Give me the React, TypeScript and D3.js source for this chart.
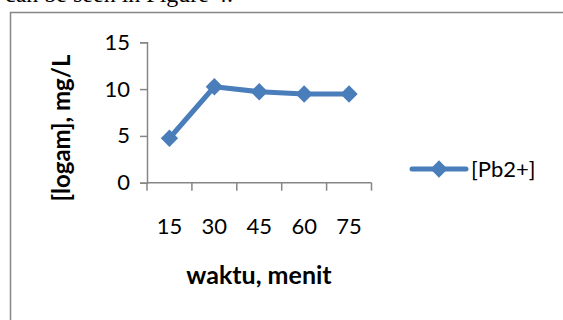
import React, { useEffect, useRef } from 'react';
import * as d3 from 'd3';

const W = 563;
const H = 320;

const categories = ['15', '30', '45', '60', '75'];
const pb2Values = [4.75, 10.25, 9.72, 9.48, 9.48];
const yTicks = [0, 5, 10, 15];
const seriesName = '[Pb2+]';

const BLUE = '#4a7ebb';
const AXIS = '#868686';
const FONT = 'Lato, sans-serif';

const App = () => {
  const svgRef = useRef<SVGSVGElement>(null);

  useEffect(() => {
    const svg = d3.select(svgRef.current);
    svg.selectAll('*').remove();

    // page text cut off at the top
    svg.append('text')
      .attr('x', 233)
      .attr('y', 1.5)
      .attr('text-anchor', 'end')
      .style('font', '24px "Liberation Serif", serif')
      .attr('fill', '#000')
      .text('can be seen in Figure 4.');

    // chart frame
    svg.append('path')
      .attr('d', `M10.5,${H} V12.5 H${W}`)
      .attr('fill', 'none')
      .attr('stroke', AXIS)
      .attr('stroke-width', 1.5);

    const x = d3.scaleBand().domain(categories).range([147, 371.5]);
    const y = d3.scaleLinear().domain([0, 15]).range([182.7, 42.3]);

    // y axis
    const yAxis = svg.append('g')
      .attr('transform', 'translate(147,0)')
      .call(d3.axisLeft(y).tickValues(yTicks).tickSize(7).tickPadding(10));
    yAxis.select('.domain').attr('stroke', AXIS).attr('stroke-width', 1.5);
    yAxis.selectAll('.tick line').attr('stroke', AXIS).attr('stroke-width', 1.5);
    yAxis.selectAll('.tick text')
      .style('font', `22px ${FONT}`)
      .attr('fill', '#000');

    // x axis
    const xAxis = svg.append('g')
      .attr('transform', `translate(0,${y(0)})`);
    xAxis.append('line')
      .attr('x1', x.range()[0]).attr('x2', x.range()[1])
      .attr('stroke', AXIS).attr('stroke-width', 1.5);
    const bounds = categories.map(c => x(c)!).concat([x.range()[1]]);
    xAxis.selectAll('line.tk')
      .data(bounds)
      .join('line')
      .attr('class', 'tk')
      .attr('x1', d => d).attr('x2', d => d)
      .attr('y1', 0).attr('y2', 8)
      .attr('stroke', AXIS).attr('stroke-width', 1.5);
    xAxis.selectAll('text')
      .data(categories)
      .join('text')
      .attr('x', d => x(d)! + x.bandwidth() / 2)
      .attr('y', 51)
      .attr('text-anchor', 'middle')
      .style('font', `22px ${FONT}`)
      .attr('fill', '#000')
      .text(d => d);

    // axis titles
    svg.append('text')
      .attr('x', 259)
      .attr('y', 284)
      .attr('text-anchor', 'middle')
      .style('font', `bold 25px ${FONT}`)
      .text('waktu, menit');
    svg.append('text')
      .attr('transform', 'translate(70,128) rotate(-90)')
      .attr('text-anchor', 'middle')
      .style('font', `bold 24px ${FONT}`)
      .text('[logam], mg/L');

    // series
    const pts = categories.map((c, i) => [x(c)! + x.bandwidth() / 2, y(pb2Values[i])] as [number, number]);
    svg.append('path')
      .attr('d', d3.line()(pts))
      .attr('fill', 'none')
      .attr('stroke', BLUE)
      .attr('stroke-width', 5)
      .attr('stroke-linejoin', 'round');
    const diamond = d3.symbol().type(d3.symbolDiamond2).size(190);
    svg.selectAll('path.pt')
      .data(pts)
      .join('path')
      .attr('class', 'pt')
      .attr('transform', d => `translate(${d[0]},${d[1]}) rotate(45)`)
      .attr('d', d3.symbol().type(d3.symbolSquare).size(150)())
      .attr('fill', BLUE);

    // legend
    const lg = svg.append('g').attr('transform', 'translate(412,169)');
    lg.append('line')
      .attr('x1', 0).attr('x2', 54)
      .attr('stroke', BLUE).attr('stroke-width', 5).attr('stroke-linecap', 'round');
    lg.append('path')
      .attr('transform', 'translate(27,0)')
      .attr('d', diamond())
      .attr('fill', BLUE);
    lg.append('text')
      .attr('x', 59)
      .attr('y', 8)
      .style('font', `22px ${FONT}`)
      .attr('fill', '#000')
      .text(seriesName);
  }, []);

  return (
    <svg
      ref={svgRef}
      width={W}
      height={H}
      style={{ position: 'absolute', left: 0, top: 0, background: '#fff' }}
    />
  );
};

export default App;
